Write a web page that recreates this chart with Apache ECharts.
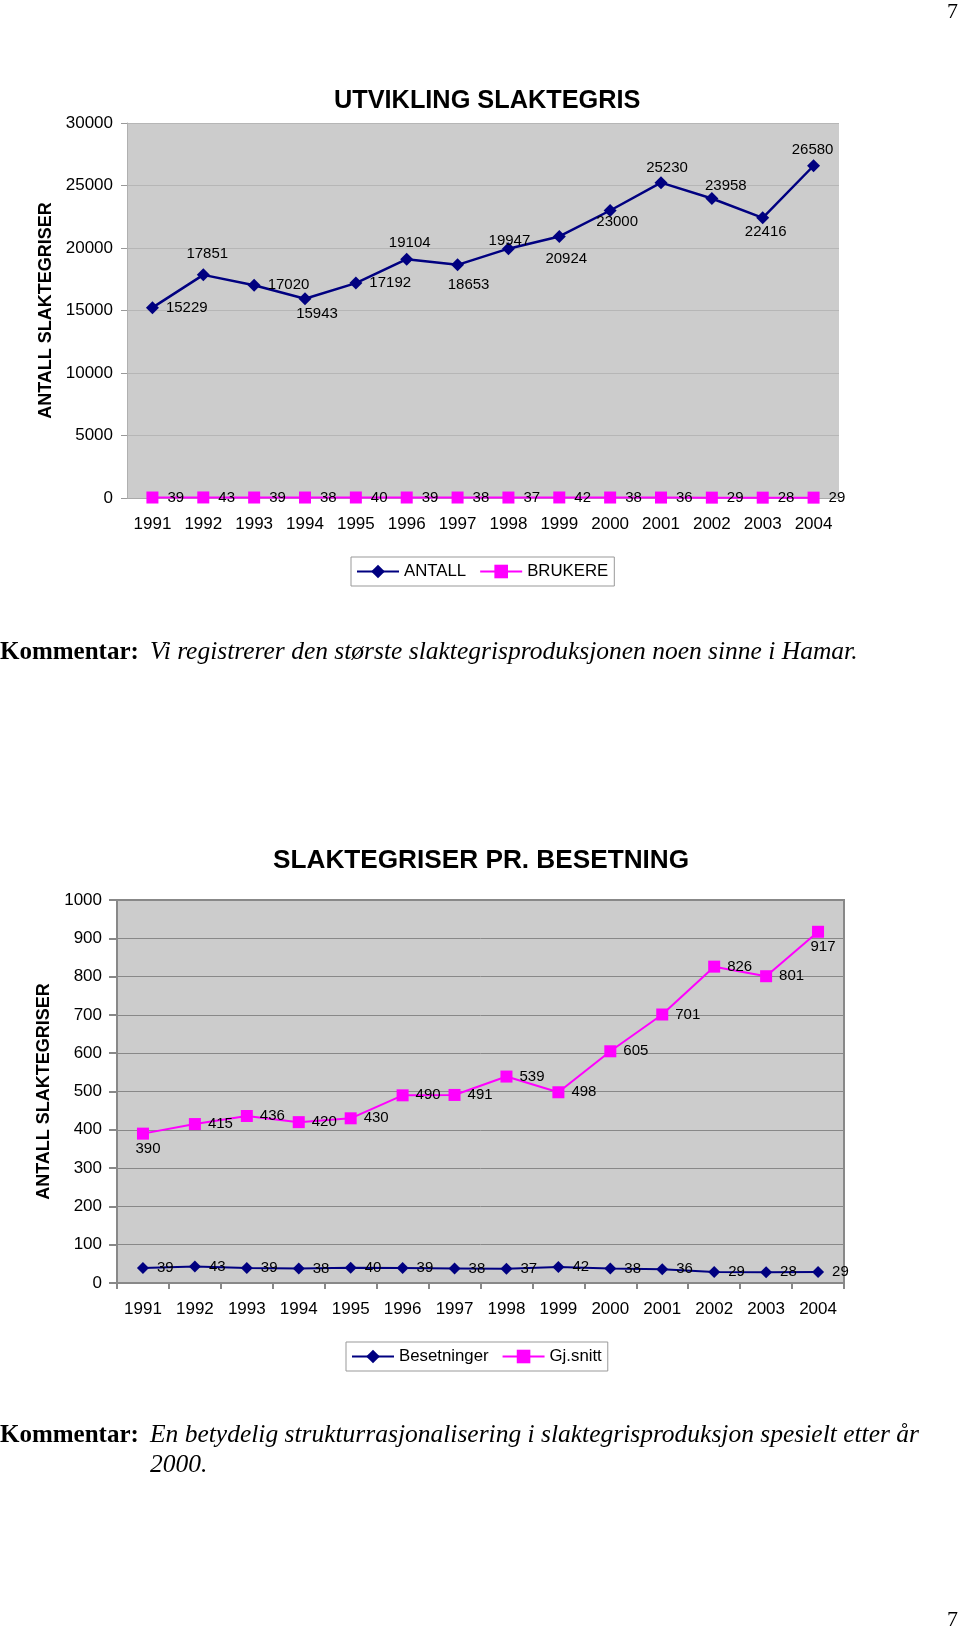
<!DOCTYPE html>
<html><head><meta charset="utf-8">
<script src="https://cdn.jsdelivr.net/npm/echarts@6/dist/echarts.min.js"></script>
<style>
html,body{margin:0;padding:0;background:#fff;}
#chart{position:absolute;left:0;top:0;width:960px;height:1627px;}
.cm{position:absolute;left:0;width:960px;height:64px;font-family:"Liberation Serif","Times New Roman",serif;font-size:25px;line-height:30px;color:#000;white-space:nowrap;}
.cm b{position:absolute;left:0;top:0;}
.cm i{position:absolute;left:150px;top:0;font-size:25.5px;}
.pg{position:absolute;right:2px;font-family:"Liberation Serif","Times New Roman",serif;font-size:22px;line-height:22px;color:#000;}
</style></head>
<body>
<div id="chart"></div>
<div class="pg" style="top:0px">7</div>
<div class="cm" style="top:636px"><b>Kommentar:</b><i>Vi registrerer den største slaktegrisproduksjonen noen sinne i Hamar.</i></div>
<div class="cm" style="top:1419px"><b>Kommentar:</b><i>En betydelig strukturrasjonalisering i slaktegrisproduksjon spesielt etter år<br>2000.</i></div>
<div class="pg" style="top:1608px">7</div>
<script>
// ---- data ----
const years = ['1991','1992','1993','1994','1995','1996','1997','1998','1999','2000','2001','2002','2003','2004'];
const antall = [15229,17851,17020,15943,17192,19104,18653,19947,20924,23000,25230,23958,22416,26580];
const brukere = [39,43,39,38,40,39,38,37,42,38,36,29,28,29];
const besetninger = [39,43,39,38,40,39,38,37,42,38,36,29,28,29];
const gjsnitt = [390,415,436,420,430,490,491,539,498,605,701,826,801,917];
const axis1 = {min:0, max:30000, interval:5000};
const axis2 = {min:0, max:1000, interval:100};

// ---- label layout (not data) ----
const antallLabelLayout = [
  {p:'right',d:7},{p:'top',d:7,dx:4},{p:'right',d:7},{p:'bottom',d:1,dx:12},
  {p:'right',d:7},{p:'top',d:2,dx:3},{p:'bottom',d:6,dx:11},{p:'top',d:-6,dx:1},
  {p:'bottom',d:8,dx:7},{p:'bottom',d:-3,dx:7},{p:'top',d:1,dx:6},{p:'top',d:-1,dx:14},
  {p:'bottom',d:0,dx:3},{p:'top',d:2,dx:-1}
];
const gjsnittLabelPos = ['bottom','right','right','right','right','right','right','right','right','right','right','right','right','bottom'];

const FONT = '"Liberation Sans", Arial, sans-serif';
const NAVY = '#000080', MAG = '#ff00ff';

const chart = echarts.init(document.getElementById('chart'), null, {renderer:'canvas'});

const antallData = antall.map((v,i)=>{
  const L = antallLabelLayout[i];
  return {value:v, label:{position:L.p, distance:L.d, offset:[L.dx||0,0]}};
});
const gjData = gjsnitt.map((v,i)=>({value:v, label:{position:gjsnittLabelPos[i], distance: gjsnittLabelPos[i]==='bottom'?2:7, offset: gjsnittLabelPos[i]==='bottom'?[5,0]:[0,0]}}));

const lbl = {show:true, color:'#000', fontSize:15, fontFamily:FONT};
const plain = v => String(v);

const legendBase = {padding:[6,6,6,5], itemGap:13, itemWidth:42, itemHeight:17,
  borderColor:'#999', borderWidth:1, textStyle:{fontSize:16.8, color:'#000', fontFamily:FONT}};

const option = {
  animation:false,
  backgroundColor:'#fff',
  textStyle:{fontFamily:FONT},
  title:[
    {text:'UTVIKLING SLAKTEGRIS', left:334, top:89, padding:0, textStyle:{fontSize:25.3, fontWeight:'bold', color:'#000', fontFamily:FONT}},
    {text:'SLAKTEGRISER PR. BESETNING', left:273, top:848, padding:0, textStyle:{fontSize:26.2, fontWeight:'bold', color:'#000', fontFamily:FONT}}
  ],
  legend:[
    Object.assign({data:['ANTALL','BRUKERE'], left:351, top:557}, legendBase),
    Object.assign({data:['Besetninger','Gj.snitt'], left:346, top:1342}, legendBase)
  ],
  grid:[
    {left:127, top:123, width:712, height:375, show:true, backgroundColor:'#cccccc', borderWidth:0},
    {left:117, top:900, width:727, height:383, show:true, backgroundColor:'#cccccc', borderColor:'#888888', borderWidth:2}
  ],
  xAxis:[
    {gridIndex:0, type:'category', data:years, boundaryGap:true,
     axisLine:{show:true, lineStyle:{color:'#aaaaaa', width:1}}, axisTick:{show:false},
     axisLabel:{interval:0, fontSize:17, color:'#000', margin:18, fontFamily:FONT}, splitLine:{show:false}},
    {gridIndex:1, type:'category', data:years, boundaryGap:true,
     axisLine:{show:true, lineStyle:{color:'#888888', width:2}}, axisTick:{show:true, length:6, lineStyle:{color:'#888888', width:2}},
     axisLabel:{interval:0, fontSize:17, color:'#000', margin:18, fontFamily:FONT}, splitLine:{show:false}}
  ],
  yAxis:[
    {gridIndex:0, type:'value', min:axis1.min, max:axis1.max, interval:axis1.interval,
     name:'ANTALL SLAKTEGRISER', nameLocation:'middle', nameGap:69,
     nameTextStyle:{fontSize:18, fontWeight:'bold', color:'#000', fontFamily:FONT},
     axisLine:{show:true, lineStyle:{color:'#b0b0b0'}}, axisTick:{show:true, length:6, lineStyle:{color:'#999999'}},
     splitLine:{show:true, lineStyle:{color:'#b6b6b6', width:1}},
     axisLabel:{fontSize:17, color:'#000', margin:14, fontFamily:FONT, formatter:plain}},
    {gridIndex:1, type:'value', min:axis2.min, max:axis2.max, interval:axis2.interval,
     name:'ANTALL SLAKTEGRISER', nameLocation:'middle', nameGap:58,
     nameTextStyle:{fontSize:18, fontWeight:'bold', color:'#000', fontFamily:FONT},
     axisLine:{show:true, lineStyle:{color:'#888888', width:2}}, axisTick:{show:true, length:8, lineStyle:{color:'#888888', width:2}},
     splitLine:{show:true, lineStyle:{color:'#888888', width:1}},
     axisLabel:{fontSize:17, color:'#000', margin:15, fontFamily:FONT, formatter:plain}}
  ],
  series:[
    {name:'ANTALL', type:'line', xAxisIndex:0, yAxisIndex:0, data:antallData,
     symbol:'diamond', symbolSize:13, itemStyle:{color:NAVY}, lineStyle:{color:NAVY, width:2.5},
     label:Object.assign({}, lbl), z:3},
    {name:'BRUKERE', type:'line', xAxisIndex:0, yAxisIndex:0, data:brukere,
     symbol:'rect', symbolSize:12, itemStyle:{color:MAG}, lineStyle:{color:MAG, width:2},
     label:Object.assign({position:'right', distance:9}, lbl), z:3},
    {name:'Besetninger', type:'line', xAxisIndex:1, yAxisIndex:1, data:besetninger,
     symbol:'diamond', symbolSize:12, itemStyle:{color:NAVY}, lineStyle:{color:NAVY, width:2},
     label:Object.assign({position:'right', distance:8}, lbl), z:3},
    {name:'Gj.snitt', type:'line', xAxisIndex:1, yAxisIndex:1, data:gjData,
     symbol:'rect', symbolSize:12, itemStyle:{color:MAG}, lineStyle:{color:MAG, width:2},
     label:Object.assign({}, lbl), z:3}
  ]
};
chart.setOption(option);
</script>
</body></html>
